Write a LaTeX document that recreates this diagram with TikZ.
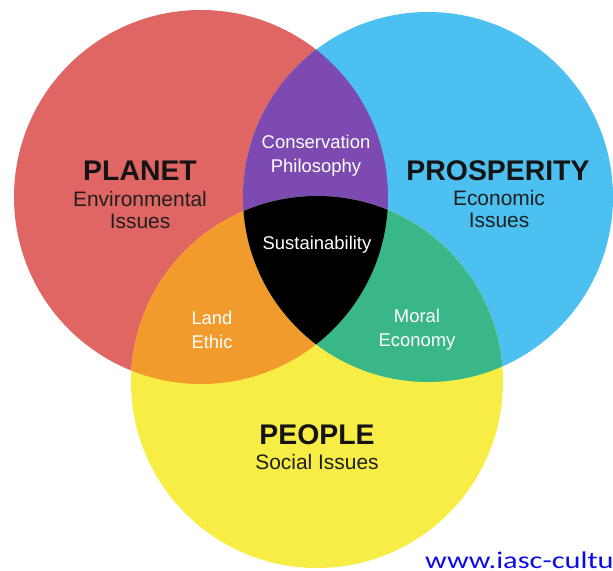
\documentclass[tikz,border=0pt]{standalone}
\usepackage{fontspec}
\usepackage{graphicx}
\setmainfont{Liberation Sans}
\newfontfamily\urlfont{Carlito}
\definecolor{planetred}{RGB}{224,102,99}
\definecolor{prospblue}{RGB}{76,192,240}
\definecolor{peopleyellow}{RGB}{248,237,68}
\definecolor{consviolet}{RGB}{124,74,176}
\definecolor{landorange}{RGB}{242,155,45}
\definecolor{moralgreen}{RGB}{58,183,136}
\definecolor{urlblue}{RGB}{10,10,235}

\begin{document}
\begin{tikzpicture}[line join=bevel,
  head/.style={font=\fontsize{28.5}{30}\selectfont\bfseries,text=black!92,inner sep=0pt},
  sub/.style={font=\fontsize{21}{23}\selectfont,text=black!88,align=center,inner sep=0pt},
  overlap/.style={font=\fontsize{18.5}{24.5}\selectfont,text=white,align=center,inner sep=0pt}]
%%
\useasboundingbox (0bp,0bp) rectangle (613bp,571bp);
\clip (0bp,0bp) rectangle (613bp,571bp);
\coordinate (c_planet) at (201bp,374bp);
  \coordinate (c_prosp) at (428bp,374bp);
  \coordinate (c_people) at (317bp,189bp);
  \fill [planetred] (c_planet) circle (187bp);
  \fill [prospblue] (c_prosp) circle (185bp);
  \fill [peopleyellow] (c_people) circle (186bp);
  \begin{scope}
    \clip (c_planet) circle (187bp);
    \fill [consviolet] (c_prosp) circle (185bp);
    \fill [landorange] (c_people) circle (186bp);
  \end{scope}
  \begin{scope}
    \clip (c_prosp) circle (185bp);
    \fill [moralgreen] (c_people) circle (186bp);
  \end{scope}
  \begin{scope}
    \clip (c_planet) circle (187bp);
    \clip (c_prosp) circle (185bp);
    \fill [black] (c_people) circle (186bp);
  \end{scope}
%
\node (node_planet) at (140bp,400bp) [head] {PLANET};
  \node (node_planet_sub) at (140bp,361bp) [sub] {Environmental\\Issues};
  \node (node_prosp) at (498bp,400bp) [head] {PROSPERITY};
  \node (node_prosp_sub) at (499bp,362bp) [sub] {Economic\\Issues};
  \node (node_people) at (317bp,136bp) [head] {PEOPLE};
  \node (node_people_sub) at (317bp,109bp) [sub] {Social Issues};
  \node (node_cons) at (316bp,415bp) [overlap] {Conservation\\Philosophy};
  \node (node_sust) at (317bp,326bp) [overlap] {Sustainability};
  \node (node_land) at (212bp,241bp) [overlap] {Land\\Ethic};
  \node (node_moral) at (417bp,241bp) [overlap] {Moral\\Economy};
  \node (node_url) at (425bp,3bp) [anchor=base west,inner sep=0pt,text=urlblue]
    {\urlfont\fontsize{24}{24}\selectfont\scalebox{1.27}[1]{www.iasc-cultu}};
%
\end{tikzpicture}
\end{document}
